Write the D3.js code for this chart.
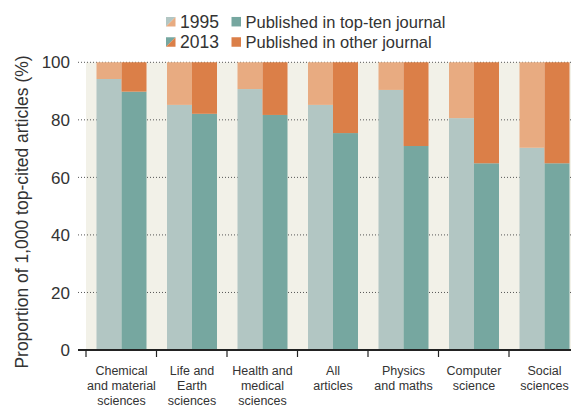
<!DOCTYPE html>
<html><head><meta charset="utf-8">
<script src="https://cdn.jsdelivr.net/npm/d3@7"></script>
<style>body{margin:0;background:#fff}svg{display:block}text{font-family:"Liberation Sans",Arial,sans-serif;fill:#333}</style>
</head><body>
<svg id="c" width="571" height="408"></svg>
<script>
const categories = [["Chemical","and material","sciences"],["Life and","Earth","sciences"],["Health and","medical","sciences"],["All","articles"],["Physics","and maths"],["Computer","science"],["Social","sciences"]];
const years = ["1995","2013"];
const topTen1995 = [94.2, 85.2, 90.7, 85.2, 90.4, 80.6, 70.3];
const topTen2013 = [89.8, 82.1, 81.7, 75.4, 70.9, 64.9, 64.9];
const yTicks = [0,20,40,60,80,100];

const colors = {
  "1995": {top:"#b2c6c3", other:"#e8ab81"},
  "2013": {top:"#76a7a0", other:"#db7f48"}
};
const svg = d3.select("#c");
const ids = categories.map((d,i)=>i);
const x = d3.scaleBand().domain(ids).range([86, 86+7*70.5]).padding(0);
const sub = d3.scaleBand().domain(years).range([10.5, 60.5]).padding(0);
const y = d3.scaleLinear().domain([0,100]).range([350, 62.3]);

// background
svg.append("rect").attr("x",86).attr("y",y(100)).attr("width",571-86).attr("height",y(0)-y(100)).attr("fill","#f2f1e8");

// gridlines
svg.append("g").selectAll("line").data(yTicks.filter(d=>d>0)).join("line")
  .attr("x1",78).attr("x2",571).attr("y1",d=>y(d)).attr("y2",d=>y(d))
  .attr("stroke","#555").attr("stroke-width",1).attr("stroke-dasharray","1,2");

// y tick labels
svg.append("g").selectAll("text").data(yTicks).join("text")
  .attr("x",70).attr("y",d=>y(d)).attr("dy","0.36em").attr("text-anchor","end")
  .style("font-size","17px").text(d=>d);

// bars
const rows = [];
ids.forEach(i=>{
  rows.push({i, year:"1995", v:topTen1995[i]});
  rows.push({i, year:"2013", v:topTen2013[i]});
});
const g = svg.append("g");
g.selectAll("rect.top").data(rows).join("rect")
  .attr("x",d=>x(d.i)+sub(d.year)).attr("width",sub.bandwidth())
  .attr("y",d=>y(d.v)).attr("height",d=>y(0)-y(d.v)).attr("fill",d=>colors[d.year].top);
g.selectAll("rect.other").data(rows).join("rect")
  .attr("x",d=>x(d.i)+sub(d.year)).attr("width",sub.bandwidth())
  .attr("y",y(100)).attr("height",d=>y(d.v)-y(100)).attr("fill",d=>colors[d.year].other);

// x axis
const axg = svg.append("g").attr("transform","translate(0,350)");
axg.append("line").attr("x1",78).attr("x2",571).attr("y1",0).attr("y2",0).attr("stroke","#222").attr("stroke-width",2);
axg.selectAll("line.tk").data(ids).join("line").attr("class","tk")
  .attr("x1",d=>x(d)).attr("x2",d=>x(d)).attr("y1",0).attr("y2",7).attr("stroke","#222").attr("stroke-width",1.2);
// category labels
const lab = svg.append("g").selectAll("text").data(ids).join("text")
  .attr("x",d=>x(d)+35.5).attr("y",371).attr("text-anchor","middle").style("font-size","12.5px");
lab.selectAll("tspan").data(d=>categories[d].map(t=>({t,cx:x(d)+35.5}))).join("tspan")
  .attr("x",d=>d.cx).attr("dy",(d,i)=>i===0?"0.35em":"15px").text(d=>d.t);

// y label
svg.append("text").attr("transform","translate(28,212) rotate(-90)").attr("text-anchor","middle")
  .style("font-size","17.5px").text("Proportion of 1,000 top-cited articles (%)");

// legend
const leg = svg.append("g");
[["1995",21.7],["2013",42]].forEach(([yr,cy])=>{
  const x0=166, s=9.5, y0=cy-s/2;
  leg.append("path").attr("d",`M${x0},${y0}L${x0+s},${y0}L${x0},${y0+s}Z`).attr("fill",colors[yr].top);
  leg.append("path").attr("d",`M${x0+s},${y0}L${x0+s},${y0+s}L${x0},${y0+s}Z`).attr("fill",colors[yr].other);
  leg.append("text").attr("x",180).attr("y",cy).attr("dy","0.36em").style("font-size","17.5px").text(yr);
});
[["Published in top-ten journal",21.7,"#76a7a0"],["Published in other journal",42,"#db7f48"]].forEach(([t,cy,c])=>{
  leg.append("rect").attr("x",231.5).attr("y",cy-4.75).attr("width",9.5).attr("height",9.5).attr("fill",c);
  leg.append("text").attr("x",245.5).attr("y",cy).attr("dy","0.36em").style("font-size","16.5px").text(t);
});
</script>
</body></html>
